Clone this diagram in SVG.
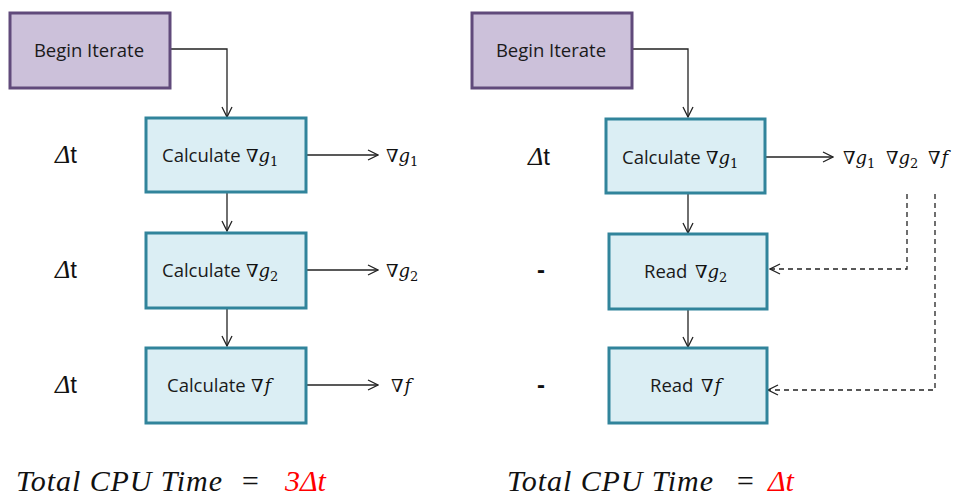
<svg xmlns="http://www.w3.org/2000/svg" width="957" height="497" viewBox="0 0 957 497">
  <style>
    .start { fill: #ccc1da; stroke: #604a7b; stroke-width: 3; }
    .step { fill: #dbeef4; stroke: #31849b; stroke-width: 3; }
    .lbl { font-family: "Open Sans", "Liberation Sans", sans-serif; font-size: 18.5px; fill: #1a1a1a; }
    .math { font-family: "DejaVu Serif", "Liberation Serif", serif; font-style: italic; font-size: 18px; fill: #111; }
    .sub { font-family: "DejaVu Serif", "Liberation Serif", serif; font-style: normal; font-size: 13px; }
    .side { font-family: "Liberation Sans", sans-serif; font-size: 24px; fill: #111; }
    .delta { font-family: "Liberation Serif", serif; font-style: italic; font-size: 26px; }
    .total { font-family: "Liberation Serif", serif; font-style: italic; font-size: 30px; fill: #111; }
    .red { fill: #ff0000; }
    .link { fill: none; stroke: #222; stroke-width: 1.3; }
    .dash { fill: none; stroke: #222; stroke-width: 1.3; stroke-dasharray: 5 4; }
  </style>
  <defs>
    <marker id="open" viewBox="0 0 12 12" refX="11" refY="6" markerWidth="12" markerHeight="12" markerUnits="userSpaceOnUse" orient="auto">
      <path d="M1,1 L11,6 L1,11" fill="none" stroke="#222" stroke-width="1.3"/>
    </marker>
  </defs>
  <rect width="957" height="497" fill="#ffffff"/>

  <!-- connectors -->
  <g id="connectors">
    <path class="link" d="M170,49 H227 V117" marker-end="url(#open)"/>
    <path class="link" d="M227,192 V231" marker-end="url(#open)"/>
    <path class="link" d="M227,308 V346" marker-end="url(#open)"/>
    <path class="link" d="M306,155 H378" marker-end="url(#open)"/>
    <path class="link" d="M306,270 H378" marker-end="url(#open)"/>
    <path class="link" d="M306,385 H378" marker-end="url(#open)"/>

    <path class="link" d="M632,49 H688 V117" marker-end="url(#open)"/>
    <path class="link" d="M688,193 V233" marker-end="url(#open)"/>
    <path class="link" d="M688,310 V347" marker-end="url(#open)"/>
    <path class="link" d="M765,157 H833" marker-end="url(#open)"/>
    <path class="dash" d="M907,194 V269 H770" marker-end="url(#open)"/>
    <path class="dash" d="M935,194 V390 H768" marker-end="url(#open)"/>
  </g>

  <!-- left: sequential computation -->
  <g id="begin-left">
    <rect class="start" x="10" y="13" width="160" height="75"/>
    <text class="lbl" x="89" y="57" text-anchor="middle">Begin Iterate</text>
  </g>
  <g id="calc-g1">
    <rect class="step" x="146" y="118" width="160" height="74"/>
    <text class="lbl" x="162" y="162">Calculate</text>
    <text class="math" x="246" y="162">∇g<tspan class="sub" dy="4">1</tspan></text>
  </g>
  <g id="calc-g2">
    <rect class="step" x="146" y="233" width="160" height="75"/>
    <text class="lbl" x="162" y="277">Calculate</text>
    <text class="math" x="246" y="277">∇g<tspan class="sub" dy="4">2</tspan></text>
  </g>
  <g id="calc-f">
    <rect class="step" x="146" y="348" width="160" height="75"/>
    <text class="lbl" x="167" y="392">Calculate</text>
    <text class="math" x="251" y="392">∇<tspan dx="1">f</tspan></text>
  </g>
  <g id="out-left">
    <text class="math" x="386" y="162">∇g<tspan class="sub" dy="4">1</tspan></text>
    <text class="math" x="386" y="277">∇g<tspan class="sub" dy="4">2</tspan></text>
    <text class="math" x="391" y="392">∇<tspan dx="1">f</tspan></text>
  </g>
  <g id="cost-left">
    <text class="side" x="55" y="163"><tspan class="delta">Δ</tspan>t</text>
    <text class="side" x="55" y="278"><tspan class="delta">Δ</tspan>t</text>
    <text class="side" x="55" y="393"><tspan class="delta">Δ</tspan>t</text>
  </g>
  <g id="total-left">
    <text class="total" x="16" y="491" textLength="206" lengthAdjust="spacing">Total CPU Time</text>
    <text class="total" x="240" y="491">=</text>
    <text class="total red" x="285" y="491">3Δt</text>
  </g>

  <!-- right: computed once, then read back -->
  <g id="begin-right">
    <rect class="start" x="472" y="13" width="160" height="75"/>
    <text class="lbl" x="551" y="57" text-anchor="middle">Begin Iterate</text>
  </g>
  <g id="calc-g1-right">
    <rect class="step" x="606" y="119" width="159" height="74"/>
    <text class="lbl" x="622" y="164">Calculate</text>
    <text class="math" x="706" y="164">∇g<tspan class="sub" dy="4">1</tspan></text>
  </g>
  <g id="read-g2">
    <rect class="step" x="609" y="234" width="158" height="75"/>
    <text class="lbl" x="644" y="278">Read</text>
    <text class="math" x="695" y="278">∇g<tspan class="sub" dy="4">2</tspan></text>
  </g>
  <g id="read-f">
    <rect class="step" x="609" y="348" width="158" height="75"/>
    <text class="lbl" x="650" y="392">Read</text>
    <text class="math" x="701" y="392">∇<tspan dx="1">f</tspan></text>
  </g>
  <g id="out-right">
    <text class="math" x="843" y="164">∇g<tspan class="sub" dy="4">1</tspan></text>
    <text class="math" x="886" y="164">∇g<tspan class="sub" dy="4">2</tspan></text>
    <text class="math" x="928" y="164">∇<tspan dx="1">f</tspan></text>
  </g>
  <g id="cost-right">
    <text class="side" x="528" y="165"><tspan class="delta">Δ</tspan>t</text>
    <text class="side" x="537" y="278" font-weight="bold">-</text>
    <text class="side" x="537" y="393" font-weight="bold">-</text>
  </g>
  <g id="total-right">
    <text class="total" x="507" y="491" textLength="206" lengthAdjust="spacing">Total CPU Time</text>
    <text class="total" x="735" y="491">=</text>
    <text class="total red" x="768" y="491">Δt</text>
  </g>
</svg>
